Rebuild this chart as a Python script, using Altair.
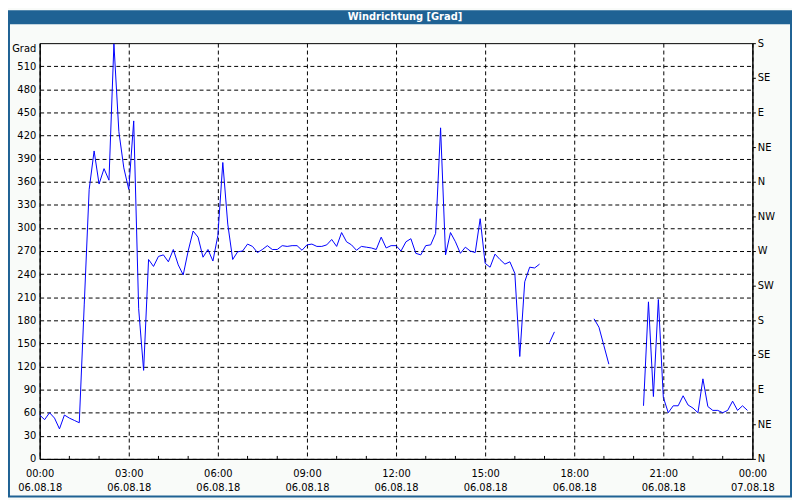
import json
import altair as alt
import pandas as pd

# ---- data (10-minute wind direction samples, degrees; None = no data) ----
title_text = "Windrichtung [Grad]"
y_unit = "Grad"
step_minutes = 10
wind_dir = [
    57, 51, 60, 53, 39, 57, 53, 50, 47, 200,
    350, 400, 357, 377, 362, 539, 425, 378, 350, 439,
    195, 115, 259, 250, 263, 265, 256, 272, 252, 239,
    270, 296, 288, 262, 272, 257, 290, 385, 305, 259,
    269, 270, 279, 276, 268, 272, 277, 272, 272, 277,
    276, 277, 277, 271, 278, 279, 276, 276, 278, 285,
    276, 294, 282, 278, 271, 276, 275, 274, 272, 288,
    274, 277, 277, 270, 282, 286, 267, 265, 277, 278,
    293, 430, 265, 294, 282, 267, 275, 270, 268, 312,
    254, 249, 266, 259, 253, 256, 241, 133, 230, 249,
    248, 253, None, 151, 165, None, None, None, None, None,
    None, None, 182, 171, 147, 123, None, None, None, None,
    None, None, 69, 204, 81, 207, 80, 60, 69, 69,
    82, 70, 66, 60, 104, 68, 63, 63, 60, 63,
    75, 63, 69, 63,
]
x_tick_minutes = [0, 180, 360, 540, 720, 900, 1080, 1260, 1440]
x_tick_times = ["00:00", "03:00", "06:00", "09:00", "12:00", "15:00", "18:00", "21:00", "00:00"]
x_tick_dates = ["06.08.18"] * 8 + ["07.08.18"]
x_minor_minutes = [60, 120, 240, 300, 420, 480, 600, 660, 780, 840, 960, 1020, 1140, 1200, 1320, 1380]
y_left_ticks = list(range(0, 541, 30))
y_right_ticks = list(range(0, 541, 45))
y_right_labels = ["N", "NE", "E", "SE", "S", "SW", "W", "NW", "N", "NE", "E", "SE", "S"]

# ---- build table: drop gaps, give each continuous run its own segment id ----
rows = []
seg = 0
prev_valid = False
for i, v in enumerate(wind_dir):
    if v is None:
        prev_valid = False
        continue
    if not prev_valid:
        seg += 1
    prev_valid = True
    rows.append({"minute": i * step_minutes, "value": v, "seg": seg})
df = pd.DataFrame(rows)
minor_df = pd.DataFrame({"minute": x_minor_minutes})
one = pd.DataFrame({"t": [title_text]})

W, H = 720, 420
FONT = "DejaVu Sans"
BLUE = "#1f6294"

xscale = alt.Scale(domain=[0, 1440], nice=False, zero=False)
yscale = alt.Scale(domain=[0, 540], nice=False, zero=True)

x_label_expr = "[" + json.dumps(x_tick_times) + "[round(datum.value/180)], " + json.dumps(x_tick_dates) + "[round(datum.value/180)]]"
right_label_expr = json.dumps(y_right_labels) + "[round(datum.value/45)]"

x_axis = alt.Axis(
    values=x_tick_minutes, labelExpr=x_label_expr, title=None,
    grid=True, gridColor="black", gridDash=[4, 3], gridWidth=1,
    tickSize=0, labelPadding=10, labelLineHeight=14, labelFont=FONT,
    labelFontSize=10, labelColor="black", domainColor="black",
    labelFlush=False, labelOverlap=False,
)
y_axis_left = alt.Axis(
    values=y_left_ticks[:-1], title=y_unit, titleAngle=0, titleAlign="right",
    titleBaseline="middle", titleX=-4, titleY=5, titleFont=FONT, titleFontSize=10,
    titleFontWeight="normal", titleColor="black",
    grid=True, gridColor="black", gridDash=[4, 3], gridWidth=1,
    tickSize=0, labelPadding=4, labelFont=FONT, labelFontSize=10,
    labelColor="black", domainColor="black", labelOverlap=False,
)
y_axis_right = alt.Axis(
    orient="right", values=y_right_ticks, labelExpr=right_label_expr, title=None,
    grid=False, tickSize=3, tickColor="black", labelPadding=2, labelFont=FONT,
    labelFontSize=10, labelColor="black", domainColor="black", labelOverlap=False,
)

line = alt.Chart(df).mark_line(color="#0000ff", strokeWidth=1, interpolate="linear").encode(
    x=alt.X("minute:Q", scale=xscale, axis=x_axis),
    y=alt.Y("value:Q", scale=yscale, axis=y_axis_left),
    detail="seg:N",
)

right = alt.Chart(df).mark_line(opacity=0).encode(
    x=alt.X("minute:Q", scale=xscale, axis=x_axis),
    y=alt.Y("value:Q", scale=yscale, axis=y_axis_right),
    detail="seg:N",
)

minor = alt.Chart(minor_df).mark_rule(color="black", strokeWidth=1).encode(
    x=alt.X("minute:Q", scale=xscale, axis=x_axis),
    y=alt.value(H),
    y2=alt.value(H - 3),
)

bar = alt.Chart(one).mark_rect(fill=BLUE, stroke=None).encode(
    x=alt.value(-32), x2=alt.value(760), y=alt.value(-33), y2=alt.value(-19)
)
frame = alt.Chart(one).mark_rect(fill=None, stroke=BLUE, strokeWidth=2, filled=False).encode(
    x=alt.value(-31), x2=alt.value(759), y=alt.value(-32), y2=alt.value(458)
)
title = alt.Chart(one).mark_text(
    font=FONT, fontSize=10, fontWeight="bold", color="white",
    align="center", baseline="middle",
).encode(x=alt.value(369), y=alt.value(-26), text="t:N")

chart = (
    alt.layer(frame, bar, title, line, right, minor)
    .resolve_scale(y="independent")
    .properties(
        width=W, height=H,
        autosize=alt.AutoSizeParams(type="none"),
        padding={"left": 32, "top": 33, "right": 40, "bottom": 39},
        background="#f9fbf9",
    )
    .configure_view(stroke="black", strokeWidth=1, fill="white")
)

chart.save("out.html", embed_options={"renderer": "svg", "actions": False})
